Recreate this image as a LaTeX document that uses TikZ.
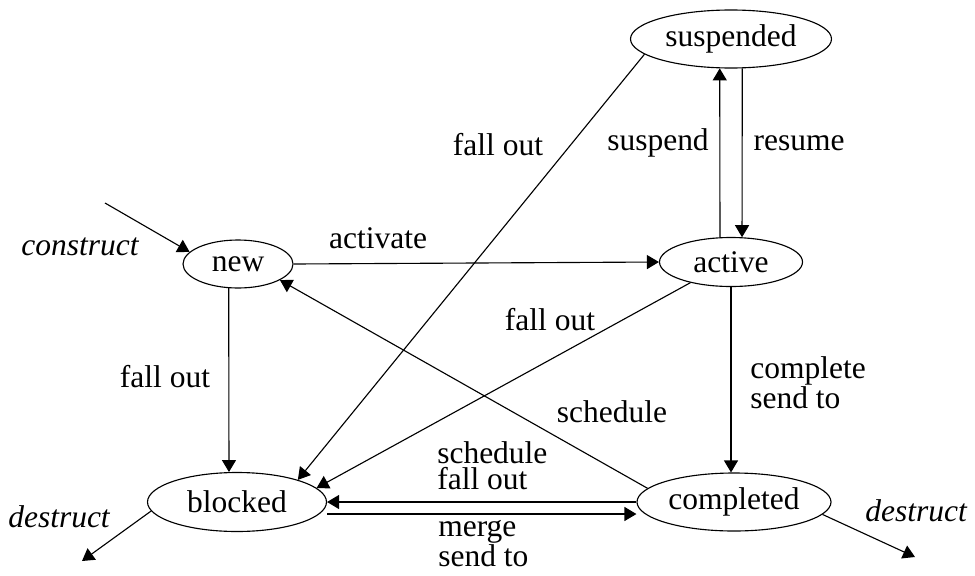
\documentclass[tikz,border=0pt]{standalone}
\usepackage{fontspec}
\setmainfont{Liberation Serif}
\usetikzlibrary{arrows.meta,shapes.geometric}

\begin{document}
\begin{tikzpicture}[scale=0.5,
  state/.style={ellipse,draw,line width=0.8pt,inner sep=0pt},
  edge/.style={line width=0.8pt,-{Triangle[length=3mm,width=3.5mm]}},
  lbl/.style={inner sep=0pt}]
\tikzstyle{every node}+=[font=\fontsize{22.4}{21.3}\selectfont]
\useasboundingbox (0,0) rectangle (48.75,-28.75);
% states
\node[state,minimum width=2.75cm,minimum height=1.2cm] (new) at (11.9,-13.2) {new};
\node[state,minimum width=3.575cm,minimum height=1.225cm] (active) at (36.55,-13.1) {active};
\node[state,minimum width=5.025cm,minimum height=1.45cm] (suspended) at (36.55,-1.95) {suspended};
\node[state,minimum width=4.475cm,minimum height=1.475cm] (blocked) at (11.85,-25.1) {blocked};
\node[state,minimum width=4.85cm,minimum height=1.45cm] (completed) at (36.7,-25.1) {completed};
\coordinate (c0) at (5.25,-10.15);
\coordinate (d1) at (4.1,-28.05);
\coordinate (d2) at (45.75,-27.85);
% transitions
\draw[edge] (c0) -- (new.166);
\draw[edge] (new.east) -- (active.west);
\draw[edge] (active.114) -- (suspended.249);
\draw[edge] (suspended.291) -- (active.66);
\draw[edge] (suspended.190) -- (blocked.20);
\draw[edge] (active.207) -- (blocked.10);
\draw[edge] (completed.171) -- (new.339);
\draw[edge] (new.249) -- (blocked.105);
\draw[edge] (active.south) -- (active.south |- completed.north);
\draw[edge] (completed.west) -- (blocked.east);
\draw[edge] ([yshift=-6mm]blocked.east) -- ([yshift=-6mm]completed.west);
\draw[edge] (blocked.186) -- (d1);
\draw[edge] (completed.352) -- (d2);
% labels
\node[lbl,anchor=base] (lconstruct) at (4,-12.75) {\itshape construct};
\node[lbl,anchor=base] (ldestructl) at (2.95,-26.35) {\itshape destruct};
\node[lbl,anchor=base] (ldestructr) at (45.8,-26.05) {\itshape destruct};
\node[lbl,anchor=base] (lactivate) at (18.9,-12.4) {activate};
\node[lbl,anchor=base] (lsuspend) at (32.9,-7.5) {suspend};
\node[lbl,anchor=base] (lresume) at (39.95,-7.5) {resume};
\node[lbl,anchor=base] (lfallsus) at (24.9,-7.75) {fall out};
\node[lbl,anchor=base] (lfallact) at (27.5,-16.5) {fall out};
\node[lbl,anchor=base] (lfallnew) at (8.25,-19.35) {fall out};
\node[lbl,anchor=base] (lschedule) at (30.6,-21.1) {schedule};
\node[lbl,anchor=west,align=left] (lcomplete) at (37.5,-19.15) {complete\\send to};
\node[lbl,anchor=west,align=left,font=\fontsize{22.4}{18.5}\selectfont] (lback) at (21.85,-23.3) {schedule\\fall out};
\node[lbl,anchor=west,align=left] (lmerge) at (21.9,-27.2) {merge\\send to};
\end{tikzpicture}
\end{document}
